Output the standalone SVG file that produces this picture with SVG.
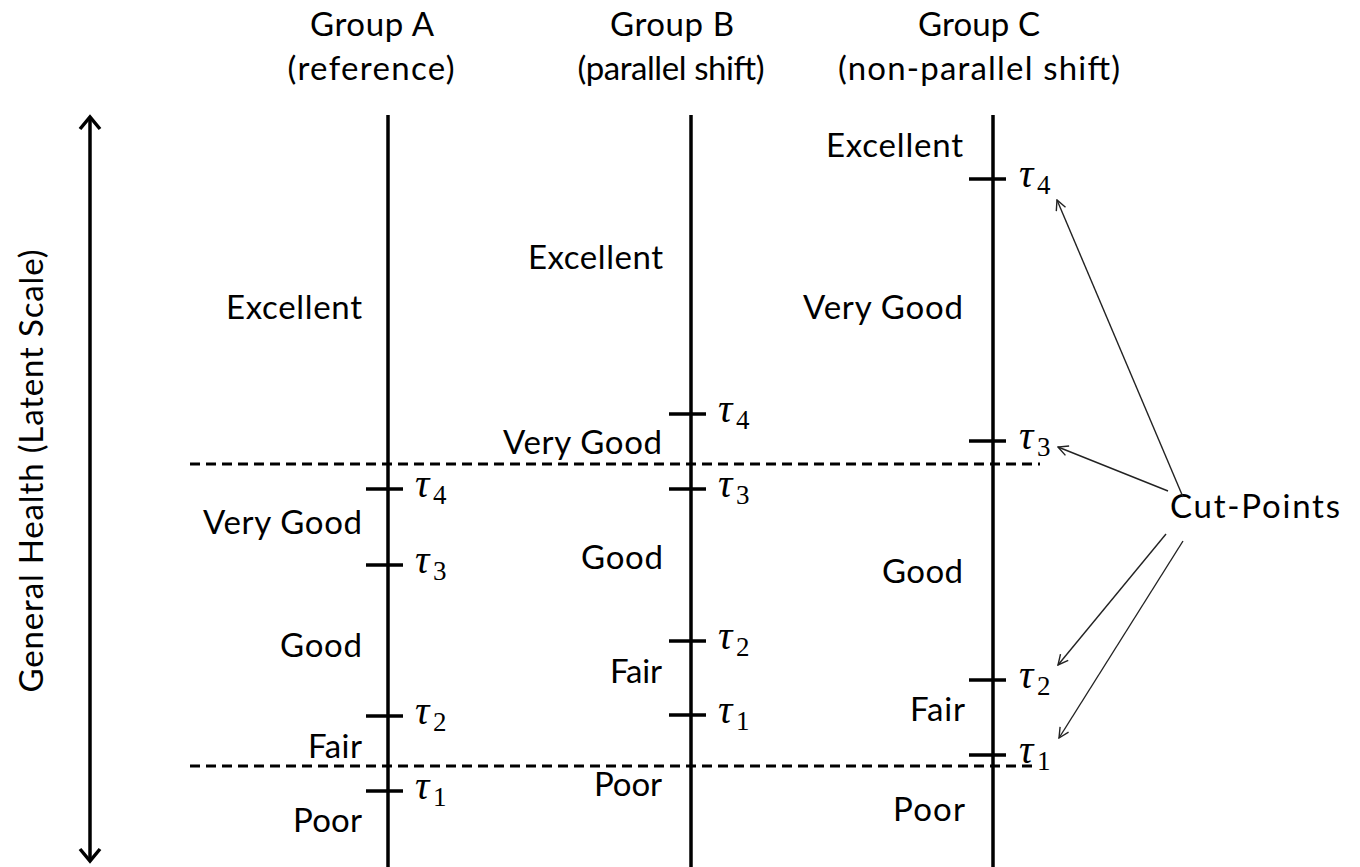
<svg xmlns="http://www.w3.org/2000/svg" width="1360" height="867" viewBox="0 0 1360 867">
<style>
.lbl{font-family:Lato,"Liberation Sans",sans-serif;font-size:33px;fill:#000}
.r{text-anchor:end}
.m{text-anchor:middle}
.tau{font-family:"Liberation Serif","DejaVu Serif",serif;font-style:italic;font-size:40px;fill:#000}
.sub{font-family:"Liberation Serif","DejaVu Serif",serif;font-size:27px;fill:#000}
.axis{stroke:#000;stroke-width:3.5;fill:none}
.tick{stroke:#000;stroke-width:3.5}
.dash{stroke:#000;stroke-width:3;stroke-dasharray:10 6}
.ptr{stroke:#222;stroke-width:1.4;fill:none;marker-end:url(#open)}
</style>
<defs>
<marker id="open" viewBox="0 0 12 12" refX="11" refY="6" markerWidth="12" markerHeight="12" markerUnits="userSpaceOnUse" orient="auto">
<path d="M1,1 L11,6 L1,11" fill="none" stroke="#222" stroke-width="1.4"/>
</marker>
</defs>
<rect width="1360" height="867" fill="#fff"/>

<g id="latent-axis">
<line class="axis" x1="90" y1="118" x2="90" y2="860"/>
<path class="axis" d="M80,129 L90,117 L100,129"/>
<path class="axis" d="M80,849 L90,861 L100,849"/>
<text class="lbl m" transform="translate(43,471) rotate(-90)" textLength="443">General Health (Latent Scale)</text>
</g>

<g id="dashed-lines">
<line class="dash" x1="190" y1="464" x2="1040" y2="464"/>
<line class="dash" x1="190" y1="766" x2="1035" y2="766"/>
</g>

<g id="group-a">
<text class="lbl m" x="372" y="36" textLength="124">Group A</text>
<text class="lbl m" x="371" y="80" textLength="167">(reference)</text>
<line class="axis" x1="388" y1="115" x2="388" y2="867"/>
<line class="tick" x1="366" y1="489" x2="403" y2="489"/>
<line class="tick" x1="366" y1="565" x2="403" y2="565"/>
<line class="tick" x1="366" y1="716" x2="403" y2="716"/>
<line class="tick" x1="366" y1="791" x2="403" y2="791"/>
<text class="tau" x="415" y="497">τ</text><text class="sub" x="433" y="504">4</text>
<text class="tau" x="415" y="573">τ</text><text class="sub" x="433" y="580">3</text>
<text class="tau" x="415" y="724">τ</text><text class="sub" x="433" y="731">2</text>
<text class="tau" x="415" y="799">τ</text><text class="sub" x="433" y="806">1</text>
<text class="lbl r" x="362" y="319" textLength="136">Excellent</text>
<text class="lbl r" x="362" y="534" textLength="159">Very Good</text>
<text class="lbl r" x="362" y="657" textLength="82">Good</text>
<text class="lbl r" x="362" y="758" textLength="54">Fair</text>
<text class="lbl r" x="362" y="832" textLength="69">Poor</text>
</g>

<g id="group-b">
<text class="lbl m" x="672" y="36" textLength="124">Group B</text>
<text class="lbl m" x="671" y="80" textLength="187">(parallel shift)</text>
<line class="axis" x1="691" y1="115" x2="691" y2="867"/>
<line class="tick" x1="669" y1="414" x2="706" y2="414"/>
<line class="tick" x1="669" y1="489" x2="706" y2="489"/>
<line class="tick" x1="669" y1="641" x2="706" y2="641"/>
<line class="tick" x1="669" y1="715" x2="706" y2="715"/>
<text class="tau" x="718" y="422">τ</text><text class="sub" x="736" y="429">4</text>
<text class="tau" x="718" y="497">τ</text><text class="sub" x="736" y="504">3</text>
<text class="tau" x="718" y="649">τ</text><text class="sub" x="736" y="656">2</text>
<text class="tau" x="718" y="723">τ</text><text class="sub" x="736" y="730">1</text>
<text class="lbl r" x="663" y="269" textLength="135">Excellent</text>
<text class="lbl r" x="662" y="454" textLength="159">Very Good</text>
<text class="lbl r" x="663" y="569" textLength="82">Good</text>
<text class="lbl r" x="662" y="683" textLength="52">Fair</text>
<text class="lbl r" x="662" y="796" textLength="68">Poor</text>
</g>

<g id="group-c">
<text class="lbl m" x="979" y="36" textLength="122">Group C</text>
<text class="lbl m" x="979" y="80" textLength="282">(non-parallel shift)</text>
<line class="axis" x1="993" y1="115" x2="993" y2="867"/>
<line class="tick" x1="969" y1="179" x2="1006" y2="179"/>
<line class="tick" x1="969" y1="441" x2="1006" y2="441"/>
<line class="tick" x1="969" y1="680" x2="1006" y2="680"/>
<line class="tick" x1="969" y1="755" x2="1006" y2="755"/>
<text class="tau" x="1019" y="187">τ</text><text class="sub" x="1037" y="194">4</text>
<text class="tau" x="1019" y="449">τ</text><text class="sub" x="1037" y="456">3</text>
<text class="tau" x="1019" y="688">τ</text><text class="sub" x="1037" y="695">2</text>
<text class="tau" x="1019" y="763">τ</text><text class="sub" x="1037" y="770">1</text>
<text class="lbl r" x="963" y="157" textLength="137">Excellent</text>
<text class="lbl r" x="963" y="319" textLength="160">Very Good</text>
<text class="lbl r" x="963" y="583" textLength="81">Good</text>
<text class="lbl r" x="965" y="721" textLength="55">Fair</text>
<text class="lbl r" x="965" y="821" textLength="72">Poor</text>
</g>

<g id="cut-points">
<text class="lbl" x="1170" y="518" textLength="170">Cut-Points</text>
</g>

<g id="connectors">
<line class="ptr" x1="1183" y1="497" x2="1057" y2="200"/>
<line class="ptr" x1="1168" y1="491" x2="1058" y2="447"/>
<line class="ptr" x1="1166" y1="534" x2="1058" y2="665"/>
<line class="ptr" x1="1183" y1="541" x2="1059" y2="738"/>
</g>
</svg>
